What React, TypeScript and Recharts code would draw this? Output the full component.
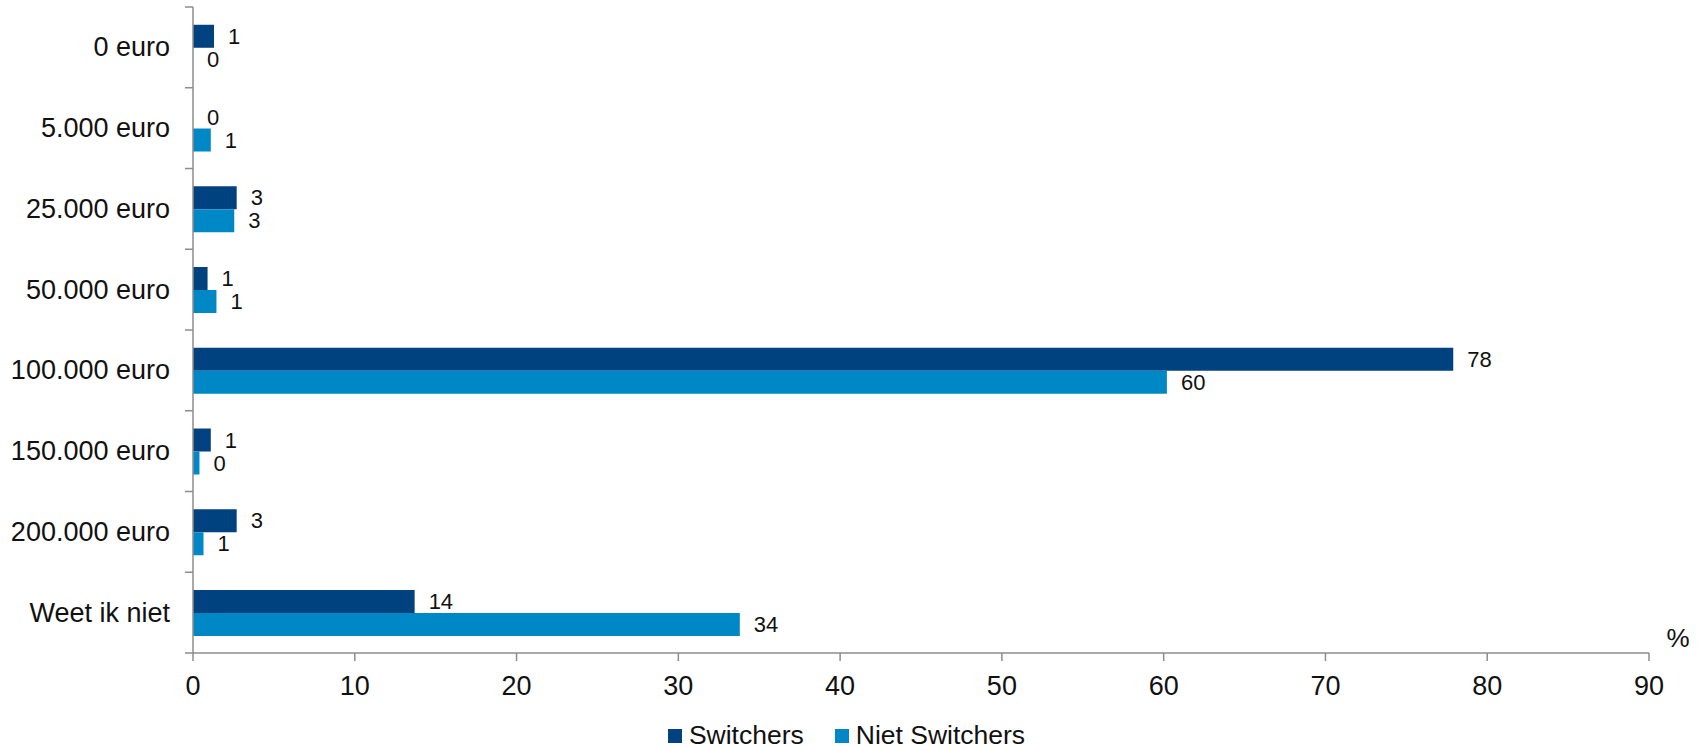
import { Bar, BarChart, LabelList, Legend, XAxis, YAxis } from 'recharts';

// Horizontale staafgrafiek: gewenste dekking, switchers vs niet switchers (%).

const categories = [
  '0 euro',
  '5.000 euro',
  '25.000 euro',
  '50.000 euro',
  '100.000 euro',
  '150.000 euro',
  '200.000 euro',
  'Weet ik niet',
];
const switchers = [1.3, 0, 2.7, 0.9, 77.9, 1.1, 2.7, 13.7];
const nietSwitchers = [0, 1.1, 2.55, 1.45, 60.2, 0.4, 0.65, 33.8];
const xTicks = [0, 10, 20, 30, 40, 50, 60, 70, 80, 90];

const DARK = '#00427f';
const LIGHT = '#0088c6';
const AXIS = '#8c8c8c';
const FONT = '"Liberation Sans", Arial, sans-serif';

const W = 1701;
const H = 750;
const TOP = 7;
const PLOT_BOTTOM = 653;
const LEGEND_H = 40;
const X_AXIS_H = H - PLOT_BOTTOM - LEGEND_H;
const HALF_BAND = (PLOT_BOTTOM - TOP) / categories.length / 2;

const data = categories.map((name, i) => ({
  name,
  switchers: switchers[i],
  niet: nietSwitchers[i],
}));

function CategoryTick(props: any) {
  const { x, y, payload, index } = props;
  return (
    <g>
      <line x1={x - 8} x2={x} y1={y - HALF_BAND} y2={y - HALF_BAND} stroke={AXIS} strokeWidth={1.5} />
      {index === categories.length - 1 && (
        <line x1={x - 8} x2={x} y1={y + HALF_BAND} y2={y + HALF_BAND} stroke={AXIS} strokeWidth={1.5} />
      )}
      <text x={x - 23} y={y} textAnchor="end" dominantBaseline="central" fontSize={27} fontFamily={FONT} fill="#111">
        {payload.value}
      </text>
    </g>
  );
}

function PercentLabel(props: any) {
  const { viewBox } = props;
  const { x, y, width } = viewBox;
  return (
    <text x={x + width + 29} y={y - 15} textAnchor="middle" dominantBaseline="central" fontSize={26} fontFamily={FONT} fill="#111">
      %
    </text>
  );
}

function ValueLabel(props: any) {
  const { x, y, width, height, value } = props;
  // bars of value 0 get a hair-thin width, so the label sits 14px past the axis
  const w = Number(value) === 0 ? 0 : Number(width);
  return (
    <text
      x={Number(x) + w + 14}
      y={Number(y) + Number(height) / 2}
      textAnchor="start"
      dominantBaseline="central"
      fontSize={22}
      fontFamily={FONT}
      fill="#111"
    >
      {Math.round(Number(value))}
    </text>
  );
}

function LegendContent() {
  const items = [
    { label: 'Switchers', color: DARK },
    { label: 'Niet Switchers', color: LIGHT },
  ];
  return (
    <div style={{ display: 'flex', justifyContent: 'center', alignItems: 'center', gap: 31, paddingTop: 10, paddingRight: 8, fontFamily: FONT, fontSize: 26.5, color: '#111' }}>
      {items.map((it) => (
        <div key={it.label} style={{ display: 'flex', alignItems: 'center' }}>
          <span style={{ width: 14, height: 14, background: it.color, marginRight: 7, display: 'inline-block' }} />
          <span>{it.label}</span>
        </div>
      ))}
    </div>
  );
}

export default function App() {
  return (
    <div style={{ position: 'absolute', left: 0, top: 0, width: W, height: H, background: '#fff' }}>
      <BarChart
        width={W}
        height={H}
        data={data}
        layout="vertical"
        margin={{ top: TOP, right: 52, left: 0, bottom: 0 }}
        barCategoryGap="22%"
        barGap={0}
      >
        <XAxis
          type="number"
          domain={[0, 90]}
          ticks={xTicks}
          interval={0}
          height={X_AXIS_H}
          stroke={AXIS}
          strokeWidth={1.5}
          tickSize={8}
          tickMargin={15}
          tick={{ fill: '#111', fontSize: 27, fontFamily: FONT }}
          label={<PercentLabel />}
        />
        <YAxis
          type="category"
          dataKey="name"
          width={193}
          stroke={AXIS}
          strokeWidth={1.5}
          tickLine={false}
          tickSize={0}
          tickMargin={0}
          tick={<CategoryTick />}
          interval={0}
        />
        <Legend
          verticalAlign="bottom"
          height={LEGEND_H}
          wrapperStyle={{ left: 0, width: W }}
          content={<LegendContent />}
        />
        <Bar dataKey="switchers" name="Switchers" fill={DARK} minPointSize={0.01} isAnimationActive={false}>
          <LabelList dataKey="switchers" content={<ValueLabel />} />
        </Bar>
        <Bar dataKey="niet" name="Niet Switchers" fill={LIGHT} minPointSize={0.01} isAnimationActive={false}>
          <LabelList dataKey="niet" content={<ValueLabel />} />
        </Bar>
      </BarChart>
    </div>
  );
}
